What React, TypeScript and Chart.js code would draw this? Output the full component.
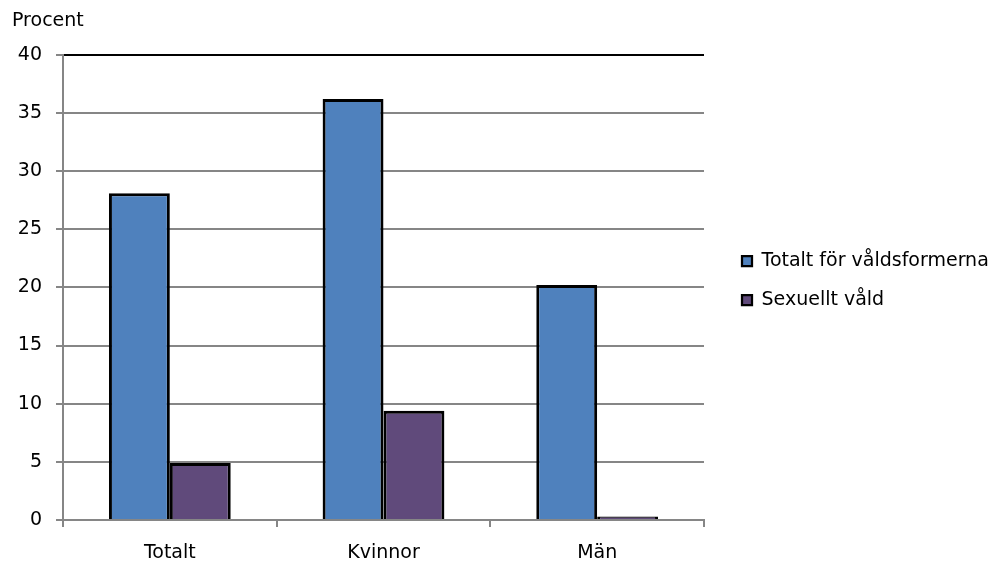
import React, { useEffect, useRef } from "react";
import { Chart, registerables } from "chart.js";

Chart.register(...registerables);

const categories = ["Totalt", "Kvinnor", "Män"];
const seriesNames = ["Totalt för våldsformerna", "Sexuellt våld"];
const totalValues = [28.1, 36.2, 20.2];
const sexualValues = [4.9, 9.4, 0.3];
const yMin = 0;
const yMax = 40;
const yStep = 5;
const yTitle = "Procent";

const FONT = "'DejaVu Sans', sans-serif";
const GRAY = "#868686";

export default function App() {
  const canvasRef = useRef<HTMLCanvasElement | null>(null);

  useEffect(() => {
    if (!canvasRef.current) return;
    const barBorder = { top: 3, left: 3, right: 3, bottom: 0 };
    const chart = new Chart(canvasRef.current, {
      type: "bar",
      data: {
        labels: categories,
        datasets: [
          {
            label: seriesNames[0],
            data: totalValues,
            backgroundColor: "#4F81BD",
            borderColor: "#000000",
            borderWidth: barBorder,
            yAxisID: "y",
          },
          {
            label: seriesNames[1],
            data: sexualValues,
            backgroundColor: "#604A7B",
            borderColor: "#000000",
            borderWidth: barBorder,
            yAxisID: "y",
          },
        ],
      },
      options: {
        animation: false,
        responsive: true,
        maintainAspectRatio: false,
        datasets: { bar: { categoryPercentage: 0.57, barPercentage: 1 } },
        layout: { padding: { left: 12, right: 2, top: 0, bottom: 0 } },
        plugins: {
          tooltip: { enabled: false },
          title: {
            display: true,
            text: yTitle,
            align: "start",
            color: "#000",
            font: { family: FONT, size: 19, weight: "normal" },
            padding: { top: 10, bottom: 22 },
          },
          legend: {
            position: "right",
            align: "center",
            maxWidth: 270,
            labels: {
              boxWidth: 10,
              boxHeight: 10,
              padding: 20,
              color: "#000",
              font: { family: FONT, size: 19 },
            },
          },
        },
        scales: {
          x: {
            grid: {
              offset: true,
              drawOnChartArea: true,
              color: (ctx: any) => (ctx.index === categories.length ? "#000000" : "rgba(0,0,0,0)"),
              tickColor: GRAY,
              lineWidth: 2,
              tickLength: 7,
            },
            border: { display: true, color: GRAY, width: 2 },
            ticks: {
              color: "#000",
              padding: 15,
              font: { family: FONT, size: 19 },
            },
            afterFit: (s: any) => {
              s.height = 41;
            },
          },
          y: {
            min: yMin,
            max: yMax,
            ticks: {
              stepSize: yStep,
              color: "#000",
              padding: 14,
              font: { family: FONT, size: 19 },
            },
            grid: {
              color: (ctx: any) => (ctx.tick && ctx.tick.value === yMax ? "#000000" : GRAY),
              tickColor: GRAY,
              lineWidth: 2,
              tickLength: 7,
            },
            border: { display: true, color: GRAY, width: 2 },
            afterFit: (s: any) => {
              s.width = 51;
            },
          },
          gap: {
            type: "linear",
            position: "right",
            display: true,
            grid: { display: false, drawTicks: false },
            ticks: { display: false },
            border: { display: false },
            afterFit: (s: any) => {
              s.width = 18;
            },
          },
        },
      },
    });
    return () => chart.destroy();
  }, []);

  return (
    <div style={{ position: "fixed", left: 0, top: 0, width: 994, height: 561, background: "#fff" }}>
      <canvas ref={canvasRef} />
    </div>
  );
}
